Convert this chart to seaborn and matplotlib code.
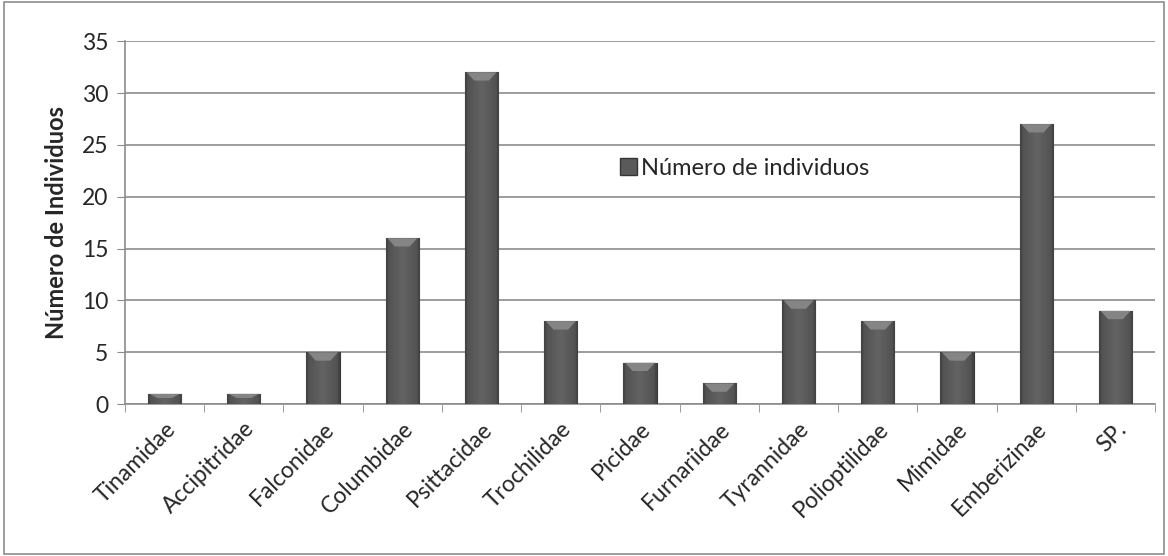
import numpy as np
import pandas as pd
import matplotlib
matplotlib.use("Agg")
import matplotlib.pyplot as plt
import seaborn as sns
from matplotlib.patches import Rectangle, Polygon

familias = ["Tinamidae", "Accipitridae", "Falconidae", "Columbidae", "Psittacidae",
            "Trochilidae", "Picidae", "Furnariidae", "Tyrannidae", "Polioptilidae",
            "Mimidae", "Emberizinae", "SP."]
individuos = [1, 1, 5, 16, 32, 8, 4, 2, 10, 8, 5, 27, 9]
serie = "Número de individuos"

df = pd.DataFrame({"familia": familias, "n": individuos})

sns.set_style("white")
plt.rcParams["font.family"] = ["Lato", "DejaVu Sans"]

fig = plt.figure(figsize=(11.68, 5.56), dpi=100)
ax = fig.add_axes([0.107, 0.273, 0.882, 0.653])

sns.barplot(data=df, x="familia", y="n", color="#5a5a5a", width=0.42,
            saturation=1, edgecolor="#363636", linewidth=0.8, ax=ax, zorder=3)

# bevel look: darker sides, lighter top wedge
t = np.linspace(0, 1, 64)
shade = 0.39 - 0.08 * np.abs(t - 0.5) * 2
shade[:4] = 0.27
shade[-4:] = 0.27
img = np.dstack([shade, shade, shade, np.ones_like(shade)])  # (1, 64, 4)
for p in ax.patches:
    x0, y0 = p.get_x(), p.get_y()
    w, h = p.get_width(), p.get_height()
    im = ax.imshow(img, aspect="auto", extent=[x0, x0 + w, y0, y0 + h], zorder=3.5)
    im.set_clip_path(p)
    cap = min(0.8, h * 0.4)
    top = y0 + h
    ax.add_patch(Polygon([(x0 + w * 0.05, top), (x0 + w * 0.95, top),
                          (x0 + w * 0.72, top - cap), (x0 + w * 0.28, top - cap)],
                         closed=True, facecolor="#8a8a8a", edgecolor="none",
                         alpha=0.9, zorder=4))

ax.set_xlim(-0.5, len(familias) - 0.5)
ax.set_ylim(0, 35)
ax.set_yticks(range(0, 36, 5))
ax.yaxis.grid(True, color="#8c8c8c", linewidth=1.2, zorder=0)
ax.set_axisbelow(True)

ax.set_xticks(range(len(familias)))
ax.set_xticklabels(familias, rotation=45, ha="right", rotation_mode="anchor", fontsize=16.5)
ax.tick_params(axis="x", length=0, pad=10)
ax.set_xticks(np.arange(-0.5, len(familias), 1), minor=True)
ax.tick_params(axis="x", which="minor", length=6, color="#8c8c8c", direction="out")
ax.tick_params(axis="y", labelsize=16.5, length=6, color="#8c8c8c", direction="out", pad=6)
ax.yaxis.set_ticks_position("left")
ax.xaxis.set_ticks_position("bottom")

ax.set_xlabel("")
ax.set_ylabel("Número de Individuos", fontsize=17, fontweight="bold", labelpad=10)

for s in ["top", "right"]:
    ax.spines[s].set_visible(False)
for s in ["left", "bottom"]:
    ax.spines[s].set_color("#8c8c8c")
    ax.spines[s].set_linewidth(1.2)

hnd = Rectangle((0, 0), 1, 1, facecolor="#5a5a5a", edgecolor="#363636")
ax.legend([hnd], [serie], loc="center left", bbox_to_anchor=(0.46, 0.65),
          frameon=False, fontsize=17, handlelength=0.7, handleheight=0.7,
          handletextpad=0.2)

fig.patches.append(Rectangle((0.003, 0.003), 0.994, 0.994, transform=fig.transFigure,
                             fill=False, edgecolor="#8c8c8c", linewidth=1.2))

fig.savefig("out.png", dpi=100)
